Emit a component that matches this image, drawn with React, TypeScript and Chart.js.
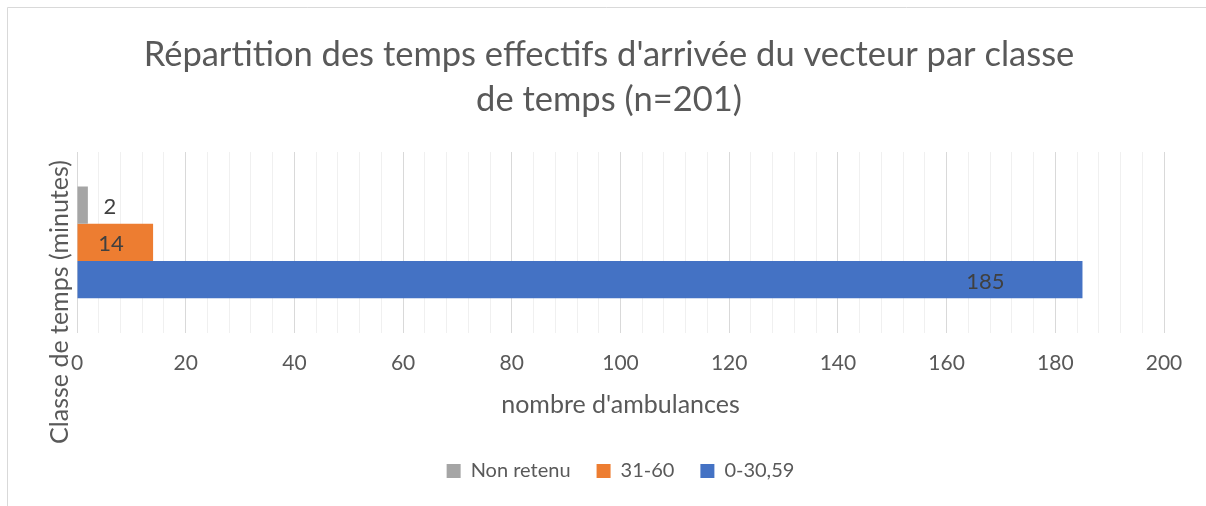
import React, { useEffect, useRef } from "react";
import { Chart, registerables } from "chart.js";

Chart.register(...registerables);

const categories = [""];
const seriesNames = ["Non retenu", "31-60", "0-30,59"];
const seriesValues = [[2], [14], [185]];
const seriesColors = ["#A5A5A5", "#ED7D31", "#4472C4"];
const labelOffsets = [22, -42, -97];
const titleLines = ["Répartition des temps effectifs d'arrivée du vecteur par classe", "de temps (n=201)"];
const xTitle = "nombre d'ambulances";
const yTitle = "Classe de temps (minutes)";

const FONT = "Lato, 'Open Sans', sans-serif";
const TEXT = "#595959";

const decorPlugin = {
  id: "decor",
  beforeDraw(chart: any) {
    const ctx = chart.ctx;
    ctx.save();
    ctx.fillStyle = "#ffffff";
    ctx.fillRect(0, 0, chart.width, chart.height);
    ctx.strokeStyle = "#d9d9d9";
    ctx.lineWidth = 1;
    ctx.beginPath();
    ctx.moveTo(7.5, chart.height);
    ctx.lineTo(7.5, 7.5);
    ctx.lineTo(chart.width, 7.5);
    ctx.stroke();
    ctx.restore();
  },
  afterDraw(chart: any) {
    const ctx = chart.ctx;
    ctx.save();
    ctx.fillStyle = TEXT;
    ctx.textAlign = "center";
    ctx.textBaseline = "middle";
    ctx.font = `34.5px ${FONT}`;
    ctx.fillText(titleLines[0], 609, 55);
    ctx.fillText(titleLines[1], 609, 100);
    ctx.translate(60, 302);
    ctx.rotate(-Math.PI / 2);
    ctx.font = `25px ${FONT}`;
    ctx.fillText(yTitle, 0, 0);
    ctx.restore();
  },
  afterDatasetsDraw(chart: any) {
    const ctx = chart.ctx;
    ctx.save();
    ctx.fillStyle = "#404040";
    ctx.textAlign = "center";
    ctx.textBaseline = "middle";
    ctx.font = `22px ${FONT}`;
    chart.data.datasets.forEach((ds: any, i: number) => {
      const meta = chart.getDatasetMeta(i);
      meta.data.forEach((bar: any, j: number) => {
        ctx.fillText(String(ds.data[j]), bar.x + labelOffsets[i], bar.y + 2);
      });
    });
    ctx.restore();
  },
};

export default function App() {
  const ref = useRef<HTMLCanvasElement>(null);
  useEffect(() => {
    const chart = new Chart(ref.current!, {
      type: "bar",
      data: {
        labels: categories,
        datasets: seriesNames.map((name, i) => ({
          label: name,
          data: seriesValues[i],
          backgroundColor: seriesColors[i],
          borderWidth: 0,
          categoryPercentage: 0.617,
          barPercentage: 1,
        })),
      },
      options: {
        indexAxis: "y",
        animation: false,
        responsive: true,
        maintainAspectRatio: false,
        layout: { padding: { top: 152, left: 77, right: 42, bottom: 15 } },
        plugins: {
          legend: {
            position: "bottom",
            labels: {
              boxWidth: 14,
              boxHeight: 14,
              color: TEXT,
              font: { family: FONT, size: 20 },
              padding: 26,
            },
          },
          tooltip: { enabled: false },
          title: { display: false },
        },
        scales: {
          x: {
            min: 0,
            max: 200,
            border: { display: false },
            grid: {
              drawTicks: false,
              color: (c: any) => (c.tick && c.tick.value % 20 === 0 ? "#d9d9d9" : "#f0f0f0"),
              lineWidth: 1,
            },
            ticks: {
              stepSize: 4,
              autoSkip: false,
              maxRotation: 0,
              padding: 18,
              color: TEXT,
              font: { family: FONT, size: 21 },
              callback: (v: any) => (Number(v) % 20 === 0 ? String(v) : ""),
            },
            title: {
              display: true,
              text: xTitle,
              color: TEXT,
              font: { family: FONT, size: 25 },
              padding: { top: -4, bottom: 15 },
            },
          },
          y: {
            border: { display: false },
            grid: { display: false, drawTicks: false },
            ticks: { display: false },
          },
        },
      },
      plugins: [decorPlugin],
    });
    return () => chart.destroy();
  }, []);
  return (
    <div style={{ position: "absolute", left: 0, top: 0, width: 1206, height: 506 }}>
      <canvas ref={ref} />
    </div>
  );
}
